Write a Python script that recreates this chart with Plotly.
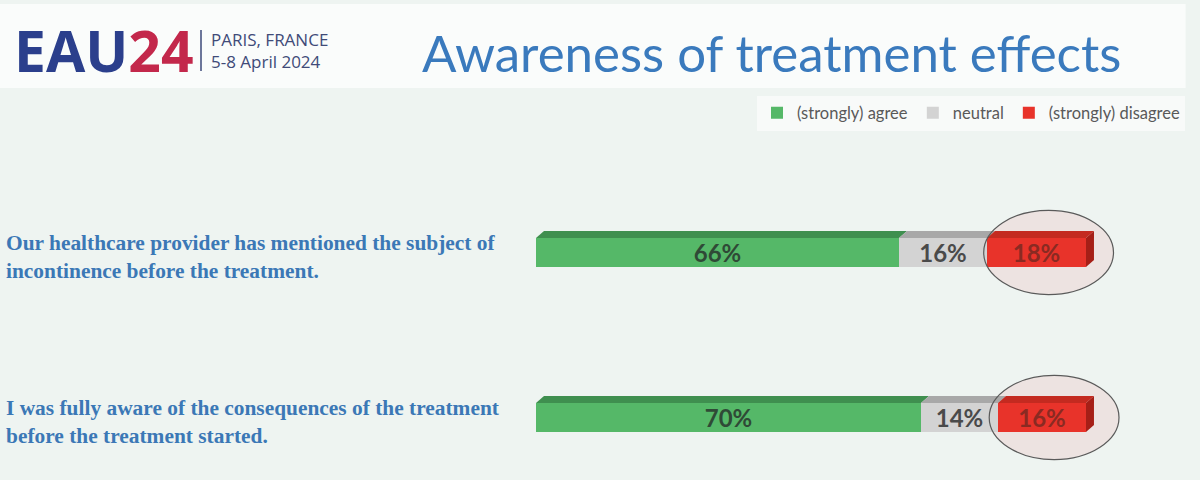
import plotly.graph_objects as go

# ---------------- data ----------------
statements = [
    "Our healthcare provider has mentioned the subject of<br>incontinence before the treatment.",
    "I was fully aware of the consequences of the treatment<br>before the treatment started.",
]
series_names = ["(strongly) agree", "neutral", "(strongly) disagree"]
agree = [66, 70]
neutral = [16, 14]
disagree = [18, 16]

# ---------------- styles ----------------
BG = "#eef4f1"
front_cols = ["#55b868", "#d3d3d3", "#e8332a"]
top_cols = ["#3f8f4f", "#a8a8a8", "#c42a20"]
side_col = "#a61f17"
text_cols = ["#2f4a36", "#4a4a4a", "#8a2a22"]
BAR_W = 0.176          # bar thickness in category units
DX, DY = 1.45, 0.042   # 3-D depth offsets (x units, y units)

positions = list(range(len(statements)))
series = [agree, neutral, disagree]

fig = go.Figure()
for name, vals, fc, tc in zip(series_names, series, front_cols, text_cols):
    fig.add_trace(go.Bar(
        y=positions, x=vals, name=name, orientation="h",
        width=BAR_W,
        marker=dict(color=fc, line=dict(width=0)),
        text=[f"{v}%" for v in vals], textposition="inside",
        insidetextanchor="middle", textangle=0,
        textfont=dict(family="Lato", size=24, color=tc, weight="bold"),
        hoverinfo="skip",
    ))

shapes = []
# header band
shapes.append(dict(type="rect", xref="paper", yref="paper", x0=0, x1=0.988,
                   y0=1 - 88 / 480, y1=1 - 4 / 480, fillcolor="#fafcfb",
                   line=dict(width=0), layer="below"))

# 3-D top faces and right side, computed from cumulative values
for i, p in enumerate(positions):
    start = 0
    yt = p - BAR_W / 2
    yb = p + BAR_W / 2
    vals_i = [s[i] for s in series]
    ends = []
    for v, tc in zip(vals_i, top_cols):
        x0, x1 = start, start + v
        shapes.append(dict(
            type="path", xref="x", yref="y",
            path=f"M {x0},{yt} L {x0 + DX},{yt - DY} L {x1 + DX},{yt - DY} L {x1},{yt} Z",
            fillcolor=tc, line=dict(width=0), layer="above"))
        ends.append((x0, x1))
        start = x1
    xe = start
    shapes.append(dict(
        type="path", xref="x", yref="y",
        path=f"M {xe},{yt} L {xe + DX},{yt - DY} L {xe + DX},{yb - DY} L {xe},{yb} Z",
        fillcolor=side_col, line=dict(width=0), layer="above"))
    # highlight ellipse around the disagree segment
    rx0, rx1 = ends[-1]
    cx = (rx0 + rx1) / 2 + 2.2
    halfw = 11.8
    halfh = 0.255
    shapes.append(dict(type="circle", xref="x", yref="y",
                       x0=cx - halfw, x1=cx + halfw, y0=p - halfh, y1=p + halfh,
                       fillcolor="#ede3e1", line=dict(width=0), layer="below"))
    shapes.append(dict(type="circle", xref="x", yref="y",
                       x0=cx - halfw, x1=cx + halfw, y0=p - halfh, y1=p + halfh,
                       fillcolor="rgba(0,0,0,0)", line=dict(color="#5a5a5a", width=1.2),
                       layer="above"))

# logo divider
shapes.append(dict(type="line", xref="paper", yref="paper",
                   x0=201 / 1200, x1=201 / 1200, y0=1 - 30 / 480, y1=1 - 71 / 480,
                   line=dict(color="#3d4a7a", width=1.5)))

annotations = []
for p, s in zip(positions, statements):
    annotations.append(dict(
        xref="paper", yref="y", x=4 / 1200, y=p, yshift=-5,
        xanchor="left", yanchor="middle", align="left", showarrow=False,
        text=f"<b>{s}</b>",
        font=dict(family="Liberation Serif", size=21.4, color="#3b78b6")))

# header texts
annotations.append(dict(
    xref="paper", yref="paper", x=12 / 1200, y=1 - 50 / 480,
    xanchor="left", yanchor="middle", showarrow=False,
    text="<b>EAU<span style='color:#c3284b'>24</span></b>",
    font=dict(family="Open Sans", size=57, color="#2b3f8c")))
annotations.append(dict(
    xref="paper", yref="paper", x=209 / 1200, y=1 - 51 / 480,
    xanchor="left", yanchor="middle", align="left", showarrow=False,
    text="PARIS, FRANCE<br>5-8 April 2024",
    font=dict(family="Open Sans", size=17, color="#404b78")))
annotations.append(dict(
    xref="paper", yref="paper", x=771 / 1200, y=1 - 52 / 480,
    xanchor="center", yanchor="middle", showarrow=False,
    text="Awareness of treatment effects",
    font=dict(family="Lato", size=51, color="#3a7abd")))

# axis ranges chosen so 0..100 spans x=536..1086 px and category centres land
# at the reference positions; full-width domains keep the 3-D shapes unclipped
fig.update_layout(
    barmode="stack",
    width=1200, height=480,
    margin=dict(l=0, r=0, t=0, b=0),
    paper_bgcolor=BG, plot_bgcolor=BG,
    uniformtext=dict(minsize=24, mode="show"),
    xaxis=dict(domain=[0, 1], range=[-97.4545, 120.7273],
               visible=False, fixedrange=True),
    yaxis=dict(range=[1.379, -1.530], visible=False, fixedrange=True),
    showlegend=True,
    legend=dict(orientation="h", x=1185 / 1200, xanchor="right",
                y=1 - 113 / 480, yanchor="middle",
                bgcolor="#f8faf9", borderwidth=0,
                font=dict(family="Lato", size=16.5, color="#595959"),
                traceorder="normal", itemclick=False, itemdoubleclick=False),
    shapes=shapes,
    annotations=annotations,
)

fig.write_html("out.html")
